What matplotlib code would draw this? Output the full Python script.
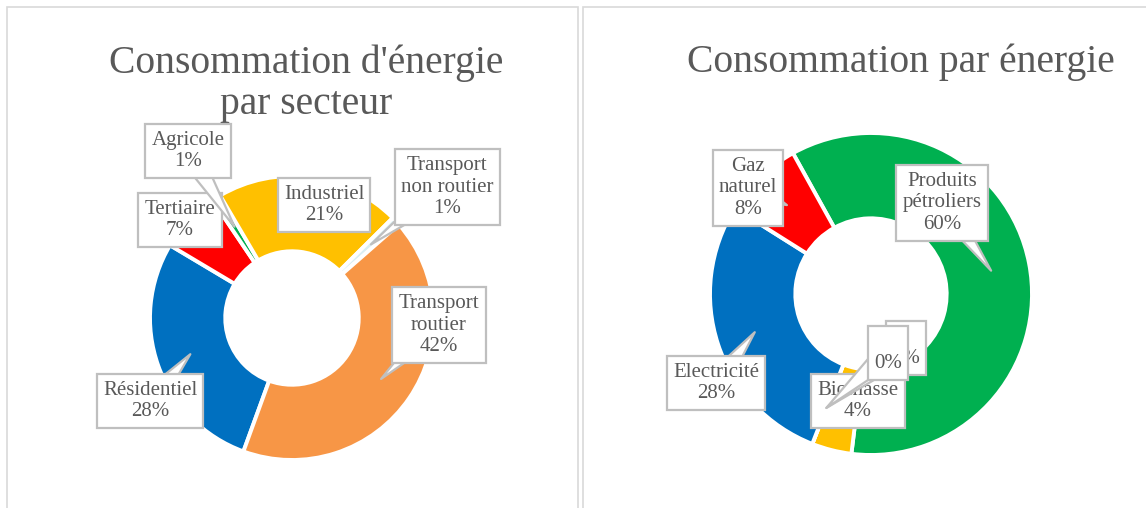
import matplotlib
matplotlib.use("Agg")
import matplotlib.pyplot as plt
import numpy as np
from matplotlib.patches import Rectangle

# ---------------- data ----------------
secteur_labels = ["Résidentiel", "Tertiaire", "Agricole", "Industriel",
                  "Transport\nnon routier", "Transport\nroutier"]
secteur_values = [28, 7, 1, 21, 1, 42]
secteur_colors = ["#0070C0", "#FF0000", "#00B050", "#FFC000", "#DAEEF3", "#F79646"]

energie_labels = ["Produits\npétroliers", "Biomasse", "\u00a0", "\u00a0", "Electricité", "Gaz\nnaturel"]
energie_values = [60, 4, 0, 0, 28, 8]
energie_colors = ["#00B050", "#FFC000", "#A5A5A5", "#5B9BD5", "#0070C0", "#FF0000"]

title_left = "Consommation d'énergie\npar secteur"
title_right = "Consommation par énergie"

# ---------------- layout ----------------
W, H = 1146, 508
fig = plt.figure(figsize=(W / 100, H / 100), dpi=100)
ax = fig.add_axes([0, 0, 1, 1])

def P(x, y):
    return (x, H - y)

TXT = "#595959"
EDGE = "#BFBFBF"
FONT = "Liberation Serif"
LFS = 15

# panel borders
ax.add_patch(Rectangle(P(7, 530), 571, 523, fill=False, ec="#D9D9D9", lw=1.2))
ax.add_patch(Rectangle(P(583, 530), 600, 523, fill=False, ec="#D9D9D9", lw=1.2))

def donut(values, colors, cx, cy, r, start_cw):
    wedges, _ = ax.pie(values, colors=colors, center=P(cx, cy), radius=r,
                       startangle=90 - start_cw, counterclock=False,
                       wedgeprops=dict(width=r * 0.53, edgecolor="white", linewidth=2.8))
    return wedges

def callout(wedge, text, cx, cy, r, bx, by, zorder=5):
    mid = np.deg2rad((wedge.theta1 + wedge.theta2) / 2)
    rr = r * 0.76
    target = P(cx, cy)
    tx = target[0] + rr * np.cos(mid)
    ty = target[1] + rr * np.sin(mid)
    ax.annotate(text, xy=(tx, ty), xytext=P(bx, by), ha="center", va="center",
                fontsize=LFS, family=FONT, color=TXT, linespacing=1.2,
                bbox=dict(boxstyle="square,pad=0.3", fc="white", ec=EDGE, lw=1.6),
                arrowprops=dict(arrowstyle="wedge,tail_width=1.1,shrink_factor=0.5",
                                fc="white", ec=EDGE, lw=1.6, patchA=None,
                                shrinkA=0, shrinkB=0, mutation_scale=LFS),
                zorder=zorder)

# left donut
LCX, LCY, LR = 292, 318, 142
lw = donut(secteur_values, secteur_colors, LCX, LCY, LR, 200)
left_boxes = [(150, 401), (180, 220), (188, 151), (324, 205), (447, 187), (439, 325)]
for w, lab, v, (bx, by) in zip(lw, secteur_labels, secteur_values, left_boxes):
    callout(w, f"{lab}\n{v}%", LCX, LCY, LR, bx, by)

# right donut
RCX, RCY, RR = 871, 294, 161
rw = donut(energie_values, energie_colors, RCX, RCY, RR, 331)
right_boxes = [(942, 203), (858, 401), (906, 348), (888, 353), (716, 383), (748, 188)]
for i, (w, lab, v, (bx, by)) in enumerate(zip(rw, energie_labels, energie_values, right_boxes)):
    callout(w, f"{lab}\n{v}%", RCX, RCY, RR, bx, by, zorder=5 + i)

# titles
ax.text(*P(306, 84), title_left, ha="center", va="center", fontsize=28.5,
        family=FONT, color=TXT, linespacing=1.15)
ax.text(*P(901, 62), title_right, ha="center", va="center", fontsize=28.5,
        family=FONT, color=TXT)

ax.set_xlim(0, W)
ax.set_ylim(0, H)
ax.set_aspect("auto")
ax.axis("off")
fig.savefig("out.png", dpi=100)
